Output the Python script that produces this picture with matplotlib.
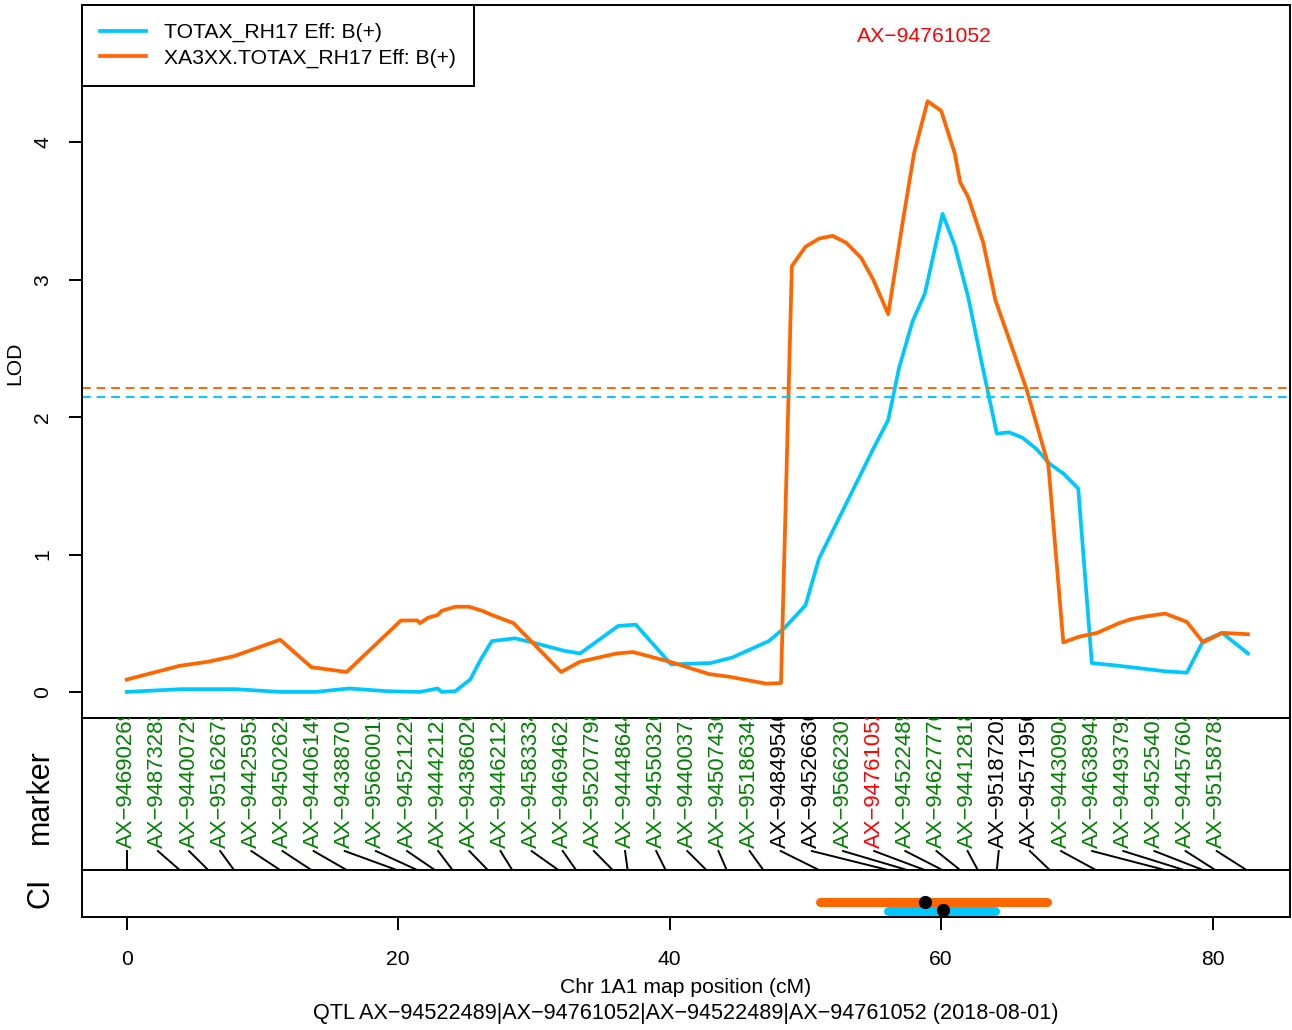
import numpy as np
import matplotlib
matplotlib.use("Agg")
import matplotlib.pyplot as plt

plt.rcParams['font.family'] = ['Liberation Sans', 'DejaVu Sans']

# LOD profiles (position in cM, LOD)
blue_pos = [0, 4.0, 8.0, 11.3, 13.9, 16.4, 19.2, 21.6, 22.9, 23.2,
            24.2, 25.3, 26.1, 26.9, 28.6, 29.9, 32.2, 33.4, 36.2, 37.5,
            40.1, 43.0, 44.6, 47.3, 48.5, 50.0, 51.0, 55.0, 56.1, 56.9,
            57.9, 58.8, 60.1, 61.0, 62.0, 63.0, 64.1, 65.0, 66.0, 67.0,
            68.0, 69.0, 70.1, 71.1, 73.1, 76.5, 78.1, 79.3, 80.7, 82.6]
blue_lod = [0.0, 0.02, 0.02, 0.0, 0.0, 0.025, 0.005, 0.0, 0.025, 0.0,
            0.005, 0.09, 0.24, 0.37, 0.39, 0.36, 0.30, 0.28, 0.48, 0.49,
            0.20, 0.21, 0.25, 0.37, 0.47, 0.63, 0.97, 1.77, 1.98, 2.36,
            2.70, 2.90, 3.48, 3.25, 2.87, 2.39, 1.88, 1.89, 1.85, 1.77,
            1.66, 1.59, 1.48, 0.21, 0.19, 0.15, 0.14, 0.37, 0.43, 0.28]

orange_pos = [0, 3.9, 6.0, 7.9, 11.3, 13.6, 16.2, 20.2, 21.4, 21.6,
              22.2, 22.9, 23.2, 24.2, 25.2, 26.2, 26.9, 28.5, 32.0, 33.4,
              36.1, 37.3, 40.0, 42.9, 44.4, 47.1, 48.2, 49.0, 50.0, 51.0,
              52.0, 53.0, 54.1, 55.0, 56.1, 57.1, 58.0, 59.0, 60.0, 61.0,
              61.4, 62.0, 63.1, 64.0, 65.0, 66.3, 67.9, 69.0, 70.1, 71.5,
              73.1, 74.0, 75.1, 76.5, 78.1, 79.3, 80.7, 82.6]
orange_lod = [0.09, 0.19, 0.22, 0.26, 0.38, 0.18, 0.145, 0.52, 0.52, 0.50,
              0.54, 0.56, 0.59, 0.62, 0.62, 0.59, 0.56, 0.50, 0.145, 0.22,
              0.28, 0.29, 0.22, 0.13, 0.11, 0.06, 0.065, 3.10, 3.24, 3.30,
              3.32, 3.27, 3.16, 3.00, 2.75, 3.38, 3.92, 4.30, 4.23, 3.92,
              3.71, 3.60, 3.27, 2.85, 2.57, 2.20, 1.65, 0.36, 0.40, 0.43,
              0.50, 0.53, 0.55, 0.57, 0.51, 0.36, 0.43, 0.42]

blue_thr = 2.145
orange_thr = 2.21

# markers: id, map position, colour group
marker_ids = ['94690269', '94873283', '94400729', '95162673', '94425953', '94502624',
              '94406149', '94388701', '95660012', '94521226', '94442121', '94386020',
              '94462123', '94583334', '94694621', '95207798', '94448644', '94550326',
              '94400371', '94507436', '95186349', '94849540', '94526630', '95662307',
              '94761052', '94522489', '94627776', '94412818', '95187202', '94571950',
              '94430904', '94638943', '94493792', '94525401', '94457604', '95158783']
marker_pos = [0, 3.9, 6.0, 7.9, 11.3, 13.6, 16.2, 19.9, 21.4, 22.7, 24.0, 26.6,
              28.4, 31.8, 33.1, 35.8, 36.9, 39.7, 42.7, 44.2, 46.9, 51.0, 56.1, 57.5,
              58.8, 60.1, 61.4, 62.7, 64.1, 68.0, 71.4, 76.5, 77.9, 79.3, 80.2, 82.5]
marker_grp = ['g'] * 21 + ['k', 'k', 'g', 'r', 'g', 'g', 'g', 'k', 'k'] + ['g'] * 6

# confidence intervals and peaks
orange_ci = [51.1, 67.8]
blue_ci = [56.1, 64.0]
orange_peak = 58.8
blue_peak = 60.1

BLUE = '#00C8FF'
ORANGE = '#FF6600'
grp_col = {'g': '#008000', 'k': 'black', 'r': 'red'}
xlim = (-3.3, 85.7)
fs = 15.2

fig = plt.figure(figsize=(12.92, 10.30), dpi=100)
L, W = 82 / 1292, 1208 / 1292
ax1 = fig.add_axes([L, 0.3029, W, 0.6922])
ax2 = fig.add_axes([L, 0.1553, W, 0.1476])
ax3 = fig.add_axes([L, 0.1097, W, 0.0456])

for a in (ax1, ax2, ax3):
    a.set_xlim(*xlim)
    for s in a.spines.values():
        s.set_linewidth(1.4)

# main LOD panel
ax1.plot(blue_pos, blue_lod, color=BLUE, lw=2.7, label='TOTAX_RH17 Eff: B(+)')
ax1.plot(orange_pos, orange_lod, color=ORANGE, lw=2.7, label='XA3XX.TOTAX_RH17 Eff: B(+)')
ax1.axhline(orange_thr, color=ORANGE, lw=1.4, linestyle=(0, (4.5, 3)))
ax1.axhline(blue_thr, color=BLUE, lw=1.4, linestyle=(0, (4.5, 3)))
ax1.set_ylim(-0.19, 5.0)
ax1.set_xticks([])
ax1.set_yticks([0, 1, 2, 3, 4])
ax1.tick_params(axis='y', labelrotation=90, length=9.5, width=1.4, pad=12, labelsize=fs)
for lab in ax1.get_yticklabels():
    lab.set_va('center')
ax1.text(orange_peak, 4.77, 'AX\u2212' + marker_ids[24], color='red', ha='center', va='center', fontsize=fs)
leg = ax1.legend(loc='upper left', fancybox=False, edgecolor='black', framealpha=1,
                 borderaxespad=0, fontsize=fs, handlelength=2.2, handletextpad=0.85,
                 borderpad=0.85, labelspacing=0.3)
leg.get_frame().set_linewidth(1.4)

# marker panel
ax2.set_ylim(0, 1)
ax2.set_xticks([])
ax2.set_yticks([])
lab_x = np.linspace(0, 80.3, len(marker_ids))
for lx, mx, mid, g in zip(lab_x, marker_pos, marker_ids, marker_grp):
    ax2.plot([lx, mx], [0.125, 0], color='black', lw=1.4)
    ax2.text(lx, 0.145, 'AX\u2212' + mid, rotation=90, rotation_mode='anchor',
             ha='left', va='center', color=grp_col[g], fontsize=15.9, clip_on=True)

# CI panel
ax3.set_ylim(0, 1)
ax3.set_yticks([])
ax3.plot(orange_ci, [0.32, 0.32], color=ORANGE, lw=6.5, solid_capstyle='round')
ax3.plot(blue_ci, [0.13, 0.13], color=BLUE, lw=6.5, solid_capstyle='round')
ax3.plot([orange_peak], [0.31], 'o', color='black', ms=8.5, clip_on=False)
ax3.plot([blue_peak], [0.15], 'o', color='black', ms=8.5, clip_on=False)
ax3.set_xticks([0, 20, 40, 60, 80])
ax3.tick_params(axis='x', length=9.5, width=1.4, pad=14, labelsize=fs)

fig.text(0.0116, 0.6476, 'LOD', rotation=90, ha='center', va='center', fontsize=fs)
fig.text(0.031, 0.2262, 'marker', rotation=90, ha='center', va='center', fontsize=22)
fig.text(0.031, 0.133, 'CI', rotation=90, ha='center', va='center', fontsize=22)
fig.text(686 / 1292, 0.0417, 'Chr 1A1 map position (cM)', ha='center', va='center', fontsize=fs)
fig.text(686 / 1292, 0.0165,
         'QTL AX\u221294522489|AX\u221294761052|AX\u221294522489|AX\u221294761052 (2018-08-01)',
         ha='center', va='center', fontsize=15.6)

fig.savefig('out.png', dpi=100)
